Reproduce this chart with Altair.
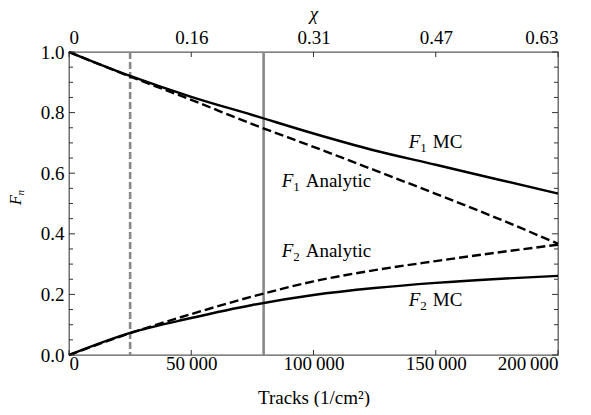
import altair as alt
import pandas as pd

# ---- data ----
tracks = [0, 25000, 50000, 75000, 100000, 125000, 150000, 175000, 200000]
f1_mc = [1.0, 0.921, 0.852, 0.792, 0.731, 0.675, 0.628, 0.580, 0.533]
f1_analytic = [1.0, 0.919, 0.842, 0.762, 0.687, 0.610, 0.532, 0.452, 0.367]
f2_analytic = [0.0, 0.072, 0.135, 0.193, 0.243, 0.280, 0.310, 0.338, 0.364]
f2_mc = [0.0, 0.073, 0.122, 0.165, 0.198, 0.221, 0.238, 0.251, 0.261]

marker_tracks = [25000, 79600]
marker_kind = ["dashed", "solid"]

x_tick_values = [0, 50000, 100000, 150000, 200000]
x_tick_labels = ["0", "50\u2009000", "100\u2009000", "150\u2009000", "200\u2009000"]
chi_tick_labels = ["0", "0.16", "0.31", "0.47", "0.63"]
y_major = [0.0, 0.2, 0.4, 0.6, 0.8, 1.0]
y_minor = [0.05, 0.1, 0.15, 0.25, 0.3, 0.35, 0.45, 0.5, 0.55,
           0.65, 0.7, 0.75, 0.85, 0.9, 0.95]

label_tracks = [139000, 87000, 87000, 139000]
label_values = [0.683, 0.553, 0.324, 0.162]
label_main = ["F", "F", "F", "F"]
label_sub = ["1", "1", "2", "2"]
label_rest = ["MC", "Analytic", "Analytic", "MC"]

# ---- styling ----
W, H = 489, 303
FONT = "Liberation Serif, Times New Roman, serif"
FS = 19
SUB = 13
frame_color = "#5a5a5a"
tick_color = "#333333"

xscale = alt.Scale(domain=[0, 200000], nice=False, zero=False)
yscale = alt.Scale(domain=[0, 1], nice=False, zero=False)


def lookup_expr(keys, labels):
    pairs = ",".join(f"'{k}':'{l}'" for k, l in zip(keys, labels))
    return "{" + pairs + "}[datum.value]"


rows = []
for name, vals, kind in [("F1 MC", f1_mc, "solid"), ("F1 Analytic", f1_analytic, "dashed"),
                         ("F2 Analytic", f2_analytic, "dashed"), ("F2 MC", f2_mc, "solid")]:
    for t, v in zip(tracks, vals):
        rows.append({"t": t, "v": v, "series": name, "kind": kind})
curves = pd.DataFrame(rows)

markers = pd.DataFrame({"t": marker_tracks, "kind": marker_kind})

bottom_axis = alt.Axis(orient="bottom", values=x_tick_values,
                       labelExpr=lookup_expr(x_tick_values, x_tick_labels),
                       ticks=False, domain=False, grid=False, title="Tracks (1/cm²)",
                       labelFont=FONT, labelFontSize=FS, labelColor="black", labelPadding=-1,
                       titleFont=FONT, titleFontSize=FS, titleFontWeight="normal",
                       titleColor="black", titlePadding=15, labelOverlap=False)
left_axis = alt.Axis(orient="left", values=y_major, labelExpr="format(datum.value, '.1f')",
                     ticks=False, domain=False, grid=False, title="",
                     labelFont=FONT, labelFontSize=FS, labelColor="black",
                     labelPadding=5, labelOverlap=False)
top_axis = alt.Axis(orient="top", values=x_tick_values,
                    labelExpr=lookup_expr(x_tick_values, chi_tick_labels),
                    ticks=False, domain=False, grid=False, title="χ",
                    labelFont=FONT, labelFontSize=FS, labelColor="black", labelPadding=5,
                    titleFont=FONT, titleFontSize=FS, titleFontStyle="italic",
                    titleFontWeight="normal", titleColor="black", titlePadding=5,
                    labelOverlap=False)

solid = alt.Chart(curves).transform_filter(alt.datum.kind == "solid").mark_line(
    color="black", strokeWidth=2.4, interpolate="monotone").encode(
    x=alt.X("t:Q", scale=xscale, axis=bottom_axis),
    y=alt.Y("v:Q", scale=yscale, axis=None),
    detail="series:N")

dashed = alt.Chart(curves).transform_filter(alt.datum.kind == "dashed").mark_line(
    color="black", strokeWidth=2.4, strokeDash=[9, 4], interpolate="monotone").encode(
    x=alt.X("t:Q", scale=xscale, axis=None),
    y=alt.Y("v:Q", scale=yscale, axis=None),
    detail="series:N")

vline_dashed = alt.Chart(markers).transform_filter(alt.datum.kind == "dashed").mark_rule(
    color="#888888", strokeWidth=2.6, strokeDash=[7, 3]).encode(
    x=alt.X("t:Q", scale=xscale, axis=top_axis))

vline_solid = alt.Chart(markers).transform_filter(alt.datum.kind == "solid").mark_rule(
    color="#888888", strokeWidth=2.6).encode(
    x=alt.X("t:Q", scale=xscale, axis=None))

# inward ticks
ymaj_df = pd.DataFrame({"v": y_major})
ymin_df = pd.DataFrame({"v": y_minor})
xt_df = pd.DataFrame({"t": x_tick_values})

left_major = alt.Chart(ymaj_df).mark_rule(color=tick_color, strokeWidth=1).encode(
    y=alt.Y("v:Q", scale=yscale, axis=left_axis), x=alt.value(0), x2=alt.value(6))


def yticks(df, x0, x1):
    return alt.Chart(df).mark_rule(color=tick_color, strokeWidth=1).encode(
        y=alt.Y("v:Q", scale=yscale, axis=None), x=alt.value(x0), x2=alt.value(x1))


def xticks(y0, y1):
    return alt.Chart(xt_df).mark_rule(color=tick_color, strokeWidth=1).encode(
        x=alt.X("t:Q", scale=xscale, axis=None), y=alt.value(y0), y2=alt.value(y1))


tick_layers = [left_major, yticks(ymin_df, 0, 4),
               yticks(ymaj_df, W, W - 6), yticks(ymin_df, W, W - 4),
               xticks(H, H - 5), xticks(0, 5)]

# in-plot labels
labels = pd.DataFrame({"t": label_tracks, "v": label_values, "main": label_main,
                       "sub": label_sub, "rest": label_rest})
lab_base = alt.Chart(labels).encode(x=alt.X("t:Q", scale=xscale, axis=None),
                                    y=alt.Y("v:Q", scale=yscale, axis=None))
lab_f = lab_base.mark_text(font=FONT, fontSize=FS, fontStyle="italic", align="left",
                           baseline="alphabetic", color="black").encode(text="main:N")
lab_sub = lab_base.mark_text(font=FONT, fontSize=SUB, align="left", baseline="alphabetic",
                             dx=11.5, dy=4, color="black").encode(text="sub:N")
lab_rest = lab_base.mark_text(font=FONT, fontSize=FS, align="left", baseline="alphabetic",
                              dx=24, color="black").encode(text="rest:N")

# y-axis title F_n
ytitle_df = pd.DataFrame({"main": ["F"], "sub": ["n"]})
yt_f = alt.Chart(ytitle_df).mark_text(font=FONT, fontSize=16, fontStyle="italic", angle=270,
                                      align="left", baseline="alphabetic", color="black").encode(
    x=alt.value(-48), y=alt.value(153), text="main:N")
yt_n = alt.Chart(ytitle_df).mark_text(font=FONT, fontSize=11, fontStyle="italic", angle=270,
                                      align="left", baseline="alphabetic", dx=9.5, dy=3,
                                      color="black").encode(
    x=alt.value(-48), y=alt.value(153), text="sub:N")

chart = alt.layer(
    vline_dashed, vline_solid, dashed, solid, *tick_layers, lab_f, lab_sub, lab_rest, yt_f, yt_n
).resolve_axis(x="independent", y="independent").properties(
    width=W, height=H,
    autosize=alt.AutoSizeParams(type="none"),
    padding={"left": 61, "top": 44, "right": 25, "bottom": 52},
).configure_view(stroke=frame_color, strokeWidth=1.3)

chart.save("out.html", embed_options={"renderer": "svg", "actions": False})
